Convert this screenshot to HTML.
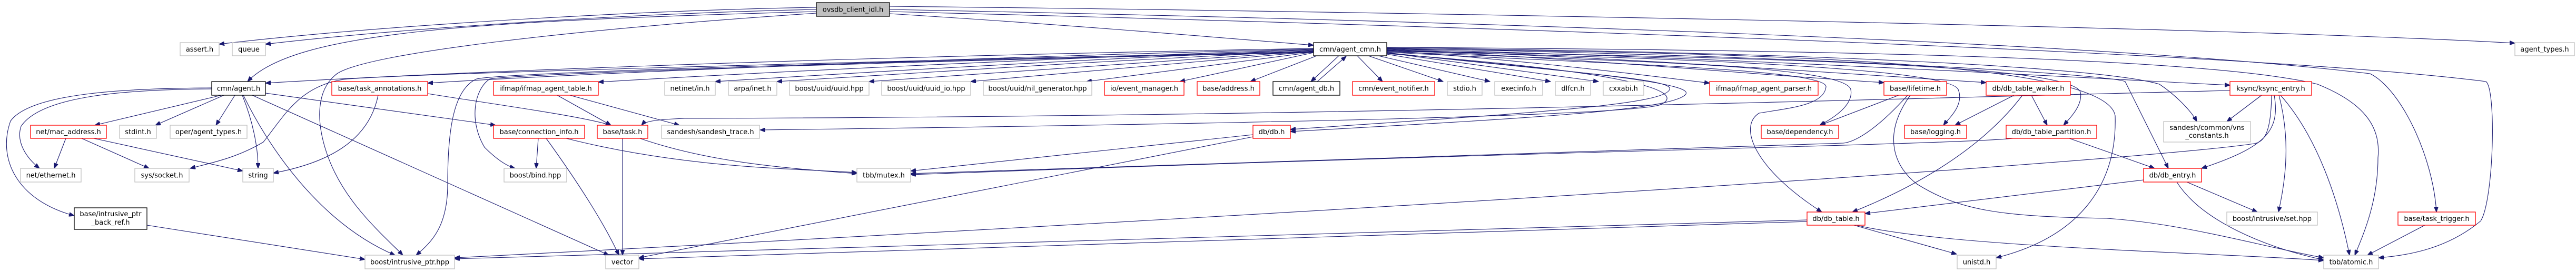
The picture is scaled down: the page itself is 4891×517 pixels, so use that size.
<!DOCTYPE html>
<html><head><meta charset="utf-8"><style>
html,body{margin:0;padding:0;background:#fff;}
svg{display:block;}
text{font-family:"DejaVu Sans","Liberation Sans",sans-serif;font-size:13px;fill:#000;text-anchor:middle;}
.e{fill:none;stroke:#191970;stroke-width:1.1;marker-end:url(#a);}
.g{fill:#fff;stroke:#bfbfbf;stroke-width:1.3;}
.r{fill:#fff;stroke:#ff0000;stroke-width:1.3;}
.k{fill:#fff;stroke:#000;stroke-width:1.3;}
</style></head><body>
<svg width="4891" height="517" viewBox="0 0 4891 517" xmlns="http://www.w3.org/2000/svg">
<defs><marker id="a" markerUnits="userSpaceOnUse" markerWidth="11" markerHeight="8" refX="10" refY="4" orient="auto"><path d="M0,0 L10,4 L0,8 z" fill="#191970" stroke="#191970"/></marker></defs>
<g>
<path class="e" d="M1550,14 C1200,20 700,50 416,84"/>
<path class="e" d="M1550,18 C1200,25 750,55 504,84"/>
<path class="e" d="M1550,22 C900,40 560,60 470,155"/>
<path class="e" d="M1550,25 C1100,55 700,100 640,140 C600,170 600,230 620,290 C650,380 720,440 765,485"/>
<path class="e" d="M1689,26 C2000,45 2300,70 2494,86"/>
<path class="e" d="M1689,12 C2500,20 4200,50 4775,82"/>
<path class="e" d="M1689,18 C2800,40 4000,80 4500,140 C4560,170 4620,300 4626,403"/>
<path class="e" d="M1689,22 C2800,50 4300,100 4720,155 C4740,170 4735,380 4710,420 C4650,470 4580,485 4516,490"/>
<path class="e" d="M2494,92 C1500,110 800,140 504,158"/>
<path class="e" d="M2494,93 C1800,110 1100,140 812,158"/>
<path class="e" d="M2494,94 C2000,110 1400,140 1136,156"/>
<path class="e" d="M2494,95 C2100,110 1600,140 1358,155"/>
<path class="e" d="M2494,96 C2200,110 1700,140 1475,155"/>
<path class="e" d="M2494,97 L1650,155"/>
<path class="e" d="M2494,98 L1843,155"/>
<path class="e" d="M2494,99 L2063,155"/>
<path class="e" d="M2494,100 L2240,155"/>
<path class="e" d="M2500,106 L2374,155"/>
<path class="e" d="M2542,106 L2489,155"/>
<path class="e" d="M2501,155 L2556,107"/>
<path class="e" d="M2577,106 L2625,155"/>
<path class="e" d="M2598,106 L2740,155"/>
<path class="e" d="M2617,106 L2829,155"/>
<path class="e" d="M2633,103 L2944,155"/>
<path class="e" d="M2633,100 L3035,155"/>
<path class="e" d="M2633,96 C2900,115 3100,140 3246,158"/>
<path class="e" d="M2633,95 C3000,110 3300,140 3577,157"/>
<path class="e" d="M2633,94 C3100,110 3500,140 3771,157"/>
<path class="e" d="M2633,93 C3300,110 3900,145 4234,162"/>
<path class="e" d="M2633,97 C3200,110 3700,130 3718,170 C3730,200 3700,225 3690,238"/>
<path class="e" d="M2633,98 C3000,115 3500,120 3514,170 C3520,200 3480,225 3455,238"/>
<path class="e" d="M2633,96 C3300,110 3930,120 3950,175 C3955,200 3930,225 3918,238"/>
<path class="e" d="M2633,99 C3000,120 3470,130 3467,165 C3463,200 3400,205 3340,215 C3300,240 3330,320 3459,403"/>
<path class="e" d="M2633,93 C3400,100 4000,120 4016,220 C4020,350 3950,450 3790,490"/>
<path class="e" d="M2633,92 C3400,105 4000,140 4035,155 L4117,320"/>
<path class="e" d="M2633,91 C3500,100 4000,130 4100,160 C4130,180 4160,210 4171,231"/>
<path class="e" d="M2633,90 C3500,95 4200,110 4400,160 C4500,200 4520,250 4515,300 C4515,380 4490,440 4471,485"/>
<path class="e" d="M2633,100 C3000,140 3180,150 3170,170 C3160,200 2900,215 2450,246"/>
<path class="e" d="M2633,101 C3050,140 3220,160 3200,180 C3170,210 2900,225 2450,250"/>
<path class="e" d="M2633,102 C3150,140 3200,180 3150,200 C3050,225 2000,240 1443,247"/>
<path class="e" d="M4234,172 C3500,190 2500,222 1300,225 C1250,227 1225,230 1218,238"/>
<path class="e" d="M2494,98 C1500,120 800,140 660,150 C570,160 540,220 500,270 C450,300 400,310 361,320"/>
<path class="e" d="M2494,99 C1600,120 1000,140 930,150 C900,170 890,230 920,280 C940,300 960,315 978,320"/>
<path class="e" d="M2494,100 C1500,120 950,140 905,150 C860,170 850,250 850,350 C850,430 820,460 790,485"/>
<path class="e" d="M420,181 L180,238"/>
<path class="e" d="M425,181 L295,238"/>
<path class="e" d="M446,181 L410,238"/>
<path class="e" d="M460,181 C480,230 490,280 490,320"/>
<path class="e" d="M402,169 C250,170 80,180 40,240 C30,270 50,300 75,320"/>
<path class="e" d="M402,167 C250,168 60,175 20,230 C-5,300 30,380 141,410"/>
<path class="e" d="M462,181 C520,300 620,430 750,485"/>
<path class="e" d="M479,181 L1156,485"/>
<path class="e" d="M504,177 L941,238"/>
<path class="e" d="M718,181 C700,270 620,310 519,329"/>
<path class="e" d="M812,178 C950,200 1100,220 1160,238"/>
<path class="e" d="M125,263 L103,320"/>
<path class="e" d="M155,263 L283,320"/>
<path class="e" d="M178,263 L461,325"/>
<path class="e" d="M279,428 L693,493"/>
<path class="e" d="M1058,181 L1160,238"/>
<path class="e" d="M1082,181 L1290,238"/>
<path class="e" d="M1022,263 L1018,320"/>
<path class="e" d="M1037,263 C1100,350 1150,430 1175,485"/>
<path class="e" d="M1075,263 C1300,320 1500,320 1627,328"/>
<path class="e" d="M1182,263 L1182,485"/>
<path class="e" d="M1215,263 C1350,310 1500,320 1627,330"/>
<path class="e" d="M2379,256 L1729,325"/>
<path class="e" d="M2379,260 L1213,490"/>
<path class="e" d="M3605,181 L3456,238"/>
<path class="e" d="M3622,181 C3560,250 3520,270 3500,272 L1729,330"/>
<path class="e" d="M3627,181 C3570,260 3600,320 3640,350 C3720,400 3800,412 4000,415 C4150,425 4300,470 4412,490"/>
<path class="e" d="M3824,181 L3712,238"/>
<path class="e" d="M3840,181 C3750,300 3600,370 3517,403"/>
<path class="e" d="M3857,181 L3887,238"/>
<path class="e" d="M3822,263 C3700,275 3000,285 1729,332"/>
<path class="e" d="M3929,263 L4091,320"/>
<path class="e" d="M4070,342 L3541,406"/>
<path class="e" d="M4152,346 L4286,403"/>
<path class="e" d="M4133,346 C4180,420 4300,470 4412,494"/>
<path class="e" d="M4294,181 L4228,231"/>
<path class="e" d="M4318,181 C4330,250 4300,280 4180,320"/>
<path class="e" d="M4327,181 C4345,250 4345,320 4326,403"/>
<path class="e" d="M4330,181 C4400,260 4440,380 4461,485"/>
<path class="e" d="M4313,181 C4312,250 4300,270 4280,273 C4100,300 3000,380 863,490"/>
<path class="e" d="M3431,418 L863,492"/>
<path class="e" d="M3431,421 L1213,492"/>
<path class="e" d="M3520,428 L3715,483"/>
<path class="e" d="M3525,428 C3700,470 4200,480 4412,495"/>
<path class="e" d="M4604,428 L4495,485"/>
</g>
<g>
<rect x="1550" y="5" width="139" height="26" fill="#bfbfbf" stroke="#000" stroke-width="1.3"/><text x="1619.5" y="22.5">ovsdb_client_idl.h</text>
<rect class="k" x="2494" y="81" width="139" height="25"/><text x="2563.5" y="98">cmn/agent_cmn.h</text>
<rect class="g" x="342" y="81" width="74" height="25"/><text x="379" y="98">assert.h</text>
<rect class="g" x="441" y="81" width="63" height="25"/><text x="472.5" y="98">queue</text>
<rect class="g" x="4775" y="81" width="113" height="25"/><text x="4831.5" y="98">agent_types.h</text>
<rect class="k" x="402" y="155" width="102" height="26"/><text x="453" y="172.5">cmn/agent.h</text>
<rect class="r" x="630" y="155" width="182" height="26"/><text x="721" y="172.5">base/task_annotations.h</text>
<rect class="r" x="937" y="155" width="199" height="26"/><text x="1036.5" y="172.5">ifmap/ifmap_agent_table.h</text>
<rect class="g" x="1262" y="155" width="96" height="26"/><text x="1310" y="172.5">netinet/in.h</text>
<rect class="g" x="1383" y="155" width="92" height="26"/><text x="1429" y="172.5">arpa/inet.h</text>
<rect class="g" x="1499" y="155" width="151" height="26"/><text x="1574.5" y="172.5">boost/uuid/uuid.hpp</text>
<rect class="g" x="1674" y="155" width="169" height="26"/><text x="1758.5" y="172.5">boost/uuid/uuid_io.hpp</text>
<rect class="g" x="1867" y="155" width="206" height="26"/><text x="1970" y="172.5">boost/uuid/nil_generator.hpp</text>
<rect class="r" x="2097" y="155" width="151" height="26"/><text x="2172.5" y="172.5">io/event_manager.h</text>
<rect class="r" x="2273" y="155" width="119" height="26"/><text x="2332.5" y="172.5">base/address.h</text>
<rect class="k" x="2417" y="155" width="127" height="26"/><text x="2480.5" y="172.5">cmn/agent_db.h</text>
<rect class="r" x="2568" y="155" width="156" height="26"/><text x="2646" y="172.5">cmn/event_notifier.h</text>
<rect class="g" x="2748" y="155" width="66" height="26"/><text x="2781" y="172.5">stdio.h</text>
<rect class="g" x="2838" y="155" width="91" height="26"/><text x="2883.5" y="172.5">execinfo.h</text>
<rect class="g" x="2953" y="155" width="67" height="26"/><text x="2986.5" y="172.5">dlfcn.h</text>
<rect class="g" x="3044" y="155" width="77" height="26"/><text x="3082.5" y="172.5">cxxabi.h</text>
<rect class="r" x="3246" y="155" width="206" height="26"/><text x="3349" y="172.5">ifmap/ifmap_agent_parser.h</text>
<rect class="r" x="3577" y="155" width="119" height="26"/><text x="3636.5" y="172.5">base/lifetime.h</text>
<rect class="r" x="3771" y="155" width="160" height="26"/><text x="3851" y="172.5">db/db_table_walker.h</text>
<rect class="r" x="4234" y="155" width="155" height="26"/><text x="4311.5" y="172.5">ksync/ksync_entry.h</text>
<rect class="r" x="58" y="238" width="144" height="25"/><text x="130" y="255">net/mac_address.h</text>
<rect class="g" x="227" y="238" width="70" height="25"/><text x="262" y="255">stdint.h</text>
<rect class="g" x="323" y="238" width="146" height="25"/><text x="396" y="255">oper/agent_types.h</text>
<rect class="r" x="937" y="238" width="173" height="25"/><text x="1023.5" y="255">base/connection_info.h</text>
<rect class="r" x="1134" y="238" width="96" height="25"/><text x="1182" y="255">base/task.h</text>
<rect class="g" x="1256" y="238" width="186" height="25"/><text x="1349" y="255">sandesh/sandesh_trace.h</text>
<rect class="r" x="2379" y="238" width="71" height="25"/><text x="2414.5" y="255">db/db.h</text>
<rect class="r" x="3344" y="238" width="147" height="25"/><text x="3417.5" y="255">base/dependency.h</text>
<rect class="r" x="3616" y="238" width="118" height="25"/><text x="3675" y="255">base/logging.h</text>
<rect class="r" x="3809" y="238" width="172" height="25"/><text x="3895" y="255">db/db_table_partition.h</text>
<rect class="g" x="4108" y="231" width="165" height="39"/><text x="4190.5" y="247">sandesh/common/vns</text><text x="4190.5" y="262">_constants.h</text>
<rect class="g" x="39" y="320" width="115" height="26"/><text x="96.5" y="337.5">net/ethernet.h</text>
<rect class="g" x="256" y="320" width="103" height="26"/><text x="307.5" y="337.5">sys/socket.h</text>
<rect class="g" x="461" y="320" width="58" height="26"/><text x="490" y="337.5">string</text>
<rect class="g" x="957" y="320" width="119" height="26"/><text x="1016.5" y="337.5">boost/bind.hpp</text>
<rect class="g" x="1627" y="320" width="102" height="26"/><text x="1678" y="337.5">tbb/mutex.h</text>
<rect class="r" x="4070" y="320" width="110" height="26"/><text x="4125" y="337.5">db/db_entry.h</text>
<rect class="k" x="141" y="395" width="138" height="41"/><text x="210" y="411">base/intrusive_ptr</text><text x="210" y="427">_back_ref.h</text>
<rect class="r" x="3431" y="403" width="110" height="25"/><text x="3486" y="420">db/db_table.h</text>
<rect class="g" x="4228" y="403" width="172" height="25"/><text x="4314" y="420">boost/intrusive/set.hpp</text>
<rect class="r" x="4553" y="403" width="147" height="25"/><text x="4626.5" y="420">base/task_trigger.h</text>
<rect class="g" x="693" y="485" width="170" height="26"/><text x="778" y="502.5">boost/intrusive_ptr.hpp</text>
<rect class="g" x="1150" y="485" width="63" height="26"/><text x="1181.5" y="502.5">vector</text>
<rect class="g" x="3716" y="485" width="74" height="26"/><text x="3753" y="502.5">unistd.h</text>
<rect class="g" x="4412" y="485" width="104" height="26"/><text x="4464" y="502.5">tbb/atomic.h</text>
</g>
</svg>
</body></html>
